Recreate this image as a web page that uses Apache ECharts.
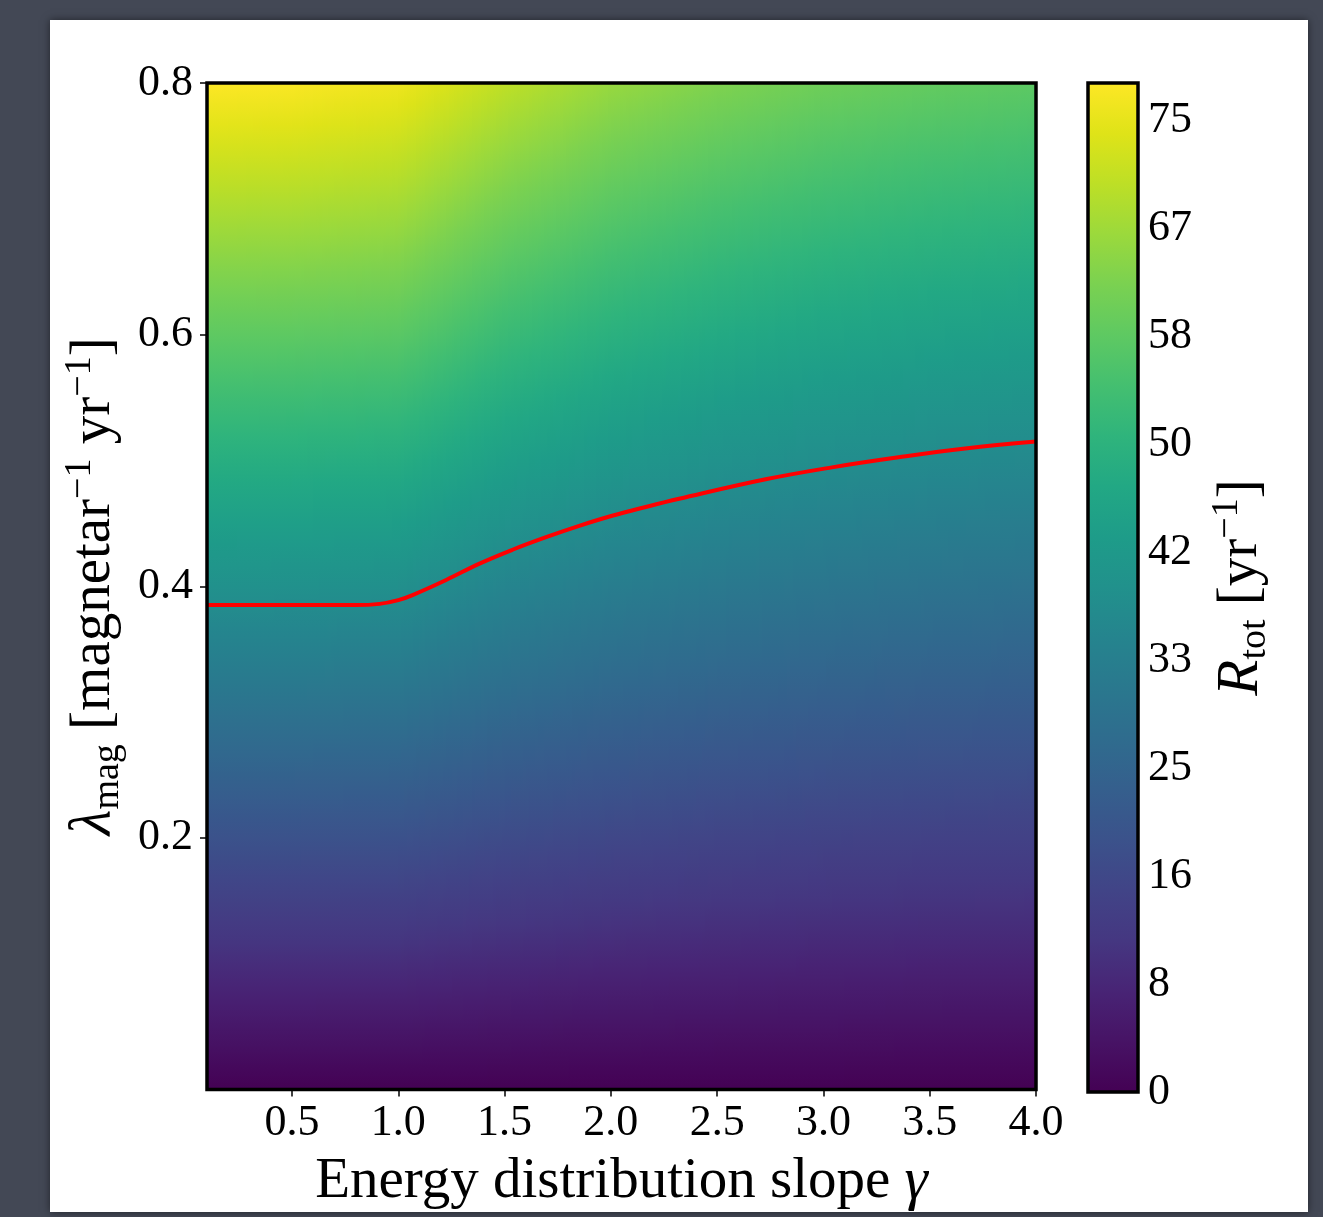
<!DOCTYPE html>
<html>
<head>
<meta charset="utf-8">
<script src="https://cdn.jsdelivr.net/npm/echarts@6/dist/echarts.min.js"></script>
<style>
  html, body { margin: 0; padding: 0; background: #434855; }
  #chart { width: 1323px; height: 1217px; }
</style>
</head>
<body>
<div id="chart"></div>
<script>
// ---- data ----
const gammaNodes = [0.1, 0.5, 1.0, 1.5, 2.0, 2.5, 3.0, 3.5, 4.0];
const lambdaNodes = [0.0, 0.1, 0.2, 0.3, 0.4, 0.5, 0.6, 0.7, 0.8];
// R_tot at each gamma node, one row per lambda node
const rateLam00 = [0.0, 0.0, 0.0, 0.0, 0.0, 0.0, 0.0, 0.0, 0.0];
const rateLam01 = [9.7, 9.7, 9.6, 8.8, 8.2, 7.9, 7.6, 7.4, 7.3];
const rateLam02 = [19.5, 19.5, 19.3, 17.6, 16.5, 15.7, 15.2, 14.8, 14.6];
const rateLam03 = [29.2, 29.2, 28.9, 26.4, 24.7, 23.6, 22.8, 22.2, 21.8];
const rateLam04 = [39.0, 38.9, 38.5, 35.2, 32.9, 31.4, 30.4, 29.6, 29.1];
const rateLam05 = [48.7, 48.6, 48.1, 44.0, 41.2, 39.3, 38.0, 37.0, 36.4];
const rateLam06 = [58.4, 58.3, 57.7, 52.7, 49.4, 47.2, 45.5, 44.4, 43.7];
const rateLam07 = [68.2, 68.0, 67.0, 61.5, 57.6, 55.0, 53.1, 51.8, 51.0];
const rateLam08 = [77.9, 77.5, 76.0, 70.3, 65.8, 62.9, 60.7, 59.2, 58.2];
const rateRows = [rateLam00, rateLam01, rateLam02, rateLam03, rateLam04, rateLam05, rateLam06, rateLam07, rateLam08];

// red contour line
const lineGamma = [0.1, 0.5, 0.8, 0.912, 1.0, 1.067, 1.225, 1.382, 1.537, 1.695, 1.851, 2.006, 2.164, 2.321, 2.728, 3.04, 3.353, 3.667, 4.0];
const lineLambda = [0.385, 0.385, 0.385, 0.386, 0.389, 0.393, 0.405, 0.418, 0.429, 0.439, 0.448, 0.456, 0.463, 0.4695, 0.485, 0.4945, 0.5025, 0.5095, 0.515];

// tick labels
const xTicks = [0.5, 1.0, 1.5, 2.0, 2.5, 3.0, 3.5, 4.0];
const yTicks = [0.2, 0.4, 0.6, 0.8];
const cbarTickLabels = ['0', '8', '16', '25', '33', '42', '50', '58', '67', '75'];
const cbarTickStep = 75 / 9;
const cbarMin = 0;
const cbarMax = 77.9;

// ---- viridis colormap ----
const viridisStops = ['#440154','#471365','#482475','#453781','#414487','#3b528b','#355f8d','#2f6c8e','#2a788e','#25848e','#21918c','#1e9c89','#22a884','#2fb47c','#44bf70','#5ec962','#7ad151','#9bd93c','#bddf26','#dfe318','#fde725'];
const viridisRGB = viridisStops.map(h => [parseInt(h.slice(1,3),16), parseInt(h.slice(3,5),16), parseInt(h.slice(5,7),16)]);
function viridis(v) {
  let t = (v - cbarMin) / (cbarMax - cbarMin);
  t = Math.max(0, Math.min(1, t));
  const f = t * (viridisRGB.length - 1);
  const i = Math.min(Math.floor(f), viridisRGB.length - 2);
  const u = f - i;
  const a = viridisRGB[i], b = viridisRGB[i + 1];
  return 'rgb(' + Math.round(a[0] + (b[0]-a[0])*u) + ',' + Math.round(a[1] + (b[1]-a[1])*u) + ',' + Math.round(a[2] + (b[2]-a[2])*u) + ')';
}

// build cell list
const cells = [];
for (let j = 0; j < lambdaNodes.length - 1; j++) {
  for (let i = 0; i < gammaNodes.length - 1; i++) {
    cells.push([gammaNodes[i], gammaNodes[i+1], lambdaNodes[j], lambdaNodes[j+1],
      rateRows[j][i], rateRows[j][i+1], rateRows[j+1][i], rateRows[j+1][i+1]]);
  }
}

function renderCell(params, api) {
  const g0 = api.value(0), g1 = api.value(1), l0 = api.value(2), l1 = api.value(3);
  const v00 = api.value(4), v10 = api.value(5), v01 = api.value(6), v11 = api.value(7);
  const pa = api.coord([g0, l0]);
  const pb = api.coord([g1, l1]);
  const x0 = Math.round(pa[0]), x1 = Math.round(pb[0]);
  const yb = Math.round(pa[1]), yt = Math.round(pb[1]);
  const n = Math.max(1, Math.round((x1 - x0) / 3));
  const children = [];
  for (let k = 0; k < n; k++) {
    const xs = Math.round(x0 + (x1 - x0) * k / n);
    const xe = Math.round(x0 + (x1 - x0) * (k + 1) / n);
    const t = (k + 0.5) / n;
    const vb = v00 + (v10 - v00) * t;
    const vt = v01 + (v11 - v01) * t;
    const stops = [];
    const m = 6;
    for (let s = 0; s <= m; s++) {
      const q = s / m;
      stops.push({ offset: q, color: viridis(vt + (vb - vt) * q) });
    }
    children.push({
      type: 'rect',
      shape: { x: xs, y: yt, width: xe - xs, height: yb - yt },
      style: { fill: { type: 'linear', x: 0, y: 0, x2: 0, y2: 1, colorStops: stops } }
    });
  }
  return { type: 'group', children: children };
}

function renderCbar(params, api) {
  const pa = api.coord([api.value(0), api.value(2)]);
  const pb = api.coord([api.value(1), api.value(3)]);
  const stops = viridisStops.map((c, i) => ({ offset: 1 - i / (viridisStops.length - 1), color: c }));
  return {
    type: 'rect',
    shape: { x: pa[0], y: pb[1], width: pb[0] - pa[0], height: pa[1] - pb[1] },
    style: { fill: { type: 'linear', x: 0, y: 0, x2: 0, y2: 1, colorStops: stops } }
  };
}

const FONT = 'Liberation Serif';
const NAME_SIZE = 57;
const SUB_SIZE = 38;
const TICK_SIZE = 44;
const cbarTickValues = cbarTickLabels.map((s, i) => i * cbarTickStep);

function mathRich() {
  return {
    it: { fontFamily: FONT, fontSize: NAME_SIZE + 2, fontStyle: 'italic', color: '#000', lineHeight: 66 },
    n: { fontFamily: FONT, fontSize: NAME_SIZE, color: '#000', lineHeight: 66 },
    sub: { fontFamily: FONT, fontSize: SUB_SIZE, color: '#000', verticalAlign: 'bottom', lineHeight: 66 },
    sup: { fontFamily: FONT, fontSize: SUB_SIZE, color: '#000', verticalAlign: 'top', lineHeight: 66 }
  };
}

const chart = echarts.init(document.getElementById('chart'), null, { renderer: 'canvas' });
chart.setOption({
  backgroundColor: 'transparent',
  animation: false,
  graphic: [{
    type: 'rect', z: -10, silent: true,
    shape: { x: 50, y: 20, width: 1258, height: 1192 },
    style: { fill: '#ffffff', shadowBlur: 8, shadowColor: 'rgba(0,0,0,0.5)' }
  }],
  grid: [
    { left: 207, top: 83, width: 829, height: 1008, show: true, borderColor: '#000', borderWidth: 3.5, backgroundColor: 'transparent', z: 10 },
    { left: 1088, top: 83, width: 50, height: 1009, show: true, borderColor: '#000', borderWidth: 3.5, backgroundColor: 'transparent', z: 10 }
  ],
  xAxis: [
    {
      gridIndex: 0, type: 'value', min: 0.1, max: 4.0,
      name: '{n|Energy distribution slope }{it|γ}', nameLocation: 'middle', nameGap: 60,
      nameTextStyle: { fontFamily: FONT, fontSize: NAME_SIZE, color: '#000', rich: mathRich() },
      axisLine: { show: false },
      axisTick: { show: true, customValues: xTicks, length: 7, lineStyle: { color: '#000', width: 1.5 } },
      axisLabel: { customValues: xTicks, formatter: v => v.toFixed(1), fontFamily: FONT, fontSize: TICK_SIZE, color: '#000', margin: 12 },
      splitLine: { show: false }
    },
    { gridIndex: 1, type: 'value', min: 0, max: 1, show: false }
  ],
  yAxis: [
    {
      gridIndex: 0, type: 'value', min: 0, max: 0.8,
      name: '{it|λ}{sub|mag}{n| [magnetar}{sup|−1}{n| yr}{sup|−1}{n|]}',
      nameLocation: 'middle', nameGap: 74,
      nameTextStyle: { fontFamily: FONT, fontSize: NAME_SIZE, color: '#000', rich: mathRich() },
      axisLine: { show: false },
      axisTick: { show: true, customValues: yTicks, length: 7, lineStyle: { color: '#000', width: 1.5 } },
      axisLabel: { customValues: yTicks, formatter: v => v.toFixed(1), fontFamily: FONT, fontSize: TICK_SIZE, color: '#000', margin: 14 },
      splitLine: { show: false }
    },
    {
      gridIndex: 1, type: 'value', min: cbarMin, max: cbarMax, position: 'right',
      name: '{it|R}{sub|tot}{n| [yr}{sup|−1}{n|]}',
      nameLocation: 'middle', nameGap: 70, nameRotate: 90,
      nameTextStyle: { fontFamily: FONT, fontSize: NAME_SIZE, color: '#000', rich: mathRich() },
      axisLine: { show: false },
      axisTick: { show: true, customValues: cbarTickValues, length: 7, lineStyle: { color: '#000', width: 1.5 } },
      axisLabel: { customValues: cbarTickValues, formatter: v => cbarTickLabels[Math.round(v / cbarTickStep)], fontFamily: FONT, fontSize: TICK_SIZE, color: '#000', margin: 10 },
      splitLine: { show: false }
    }
  ],
  series: [
    {
      type: 'custom', xAxisIndex: 0, yAxisIndex: 0, renderItem: renderCell,
      encode: { x: [0, 1], y: [2, 3] }, data: cells, z: 1, silent: true, clip: true
    },
    {
      type: 'line', xAxisIndex: 0, yAxisIndex: 0, smooth: 0.4, showSymbol: false, symbol: 'none',
      data: lineGamma.map((g, i) => [g, lineLambda[i]]),
      lineStyle: { color: '#ff0000', width: 4 }, z: 5, silent: true
    },
    {
      type: 'custom', xAxisIndex: 1, yAxisIndex: 1, renderItem: renderCbar,
      encode: { x: [0, 1], y: [2, 3] }, data: [[0, 1, cbarMin, cbarMax]], z: 1, silent: true
    }
  ]
});
</script>
</body>
</html>
